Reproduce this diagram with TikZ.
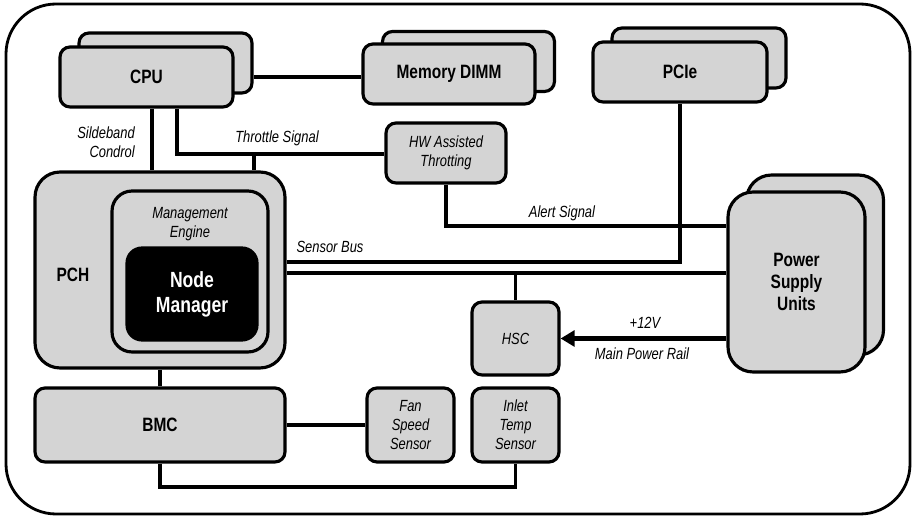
\documentclass[tikz,border=0pt]{standalone}
\usepackage{fontspec}
\setmainfont{Liberation Sans}[FakeStretch=0.8]
\usepackage{xcolor}
\usetikzlibrary{calc,arrows.meta}
\definecolor{boxgray}{gray}{0.83}

\begin{document}
\begin{tikzpicture}[x=0.02cm,y=-0.02cm,
  unit/.style={draw,line width=1.8pt,fill=boxgray,rounded corners=0.2cm,inner sep=0pt,align=center},
  bigtxt/.style={font=\bfseries\fontsize{11}{12.5}\selectfont},
  smalltxt/.style={font=\itshape\fontsize{9.2}{10.8}\selectfont,align=center},
  wire/.style={line width=1.8pt},
  power/.style={line width=3pt,-{Triangle[length=8pt,width=9pt]}}]
  \useasboundingbox (0,0) rectangle (913,516);
  \draw[line width=1.6pt,rounded corners=1cm] (6,4) rectangle (910,514);
  % stacked parts
  \node[unit,minimum width=3.46cm,minimum height=1.2cm] (cpuback) at (165.5,63) {};
  \node[unit,bigtxt,minimum width=3.46cm,minimum height=1.2cm] (cpu) at (146.5,77) {CPU};
  \node[unit,minimum width=3.44cm,minimum height=1.2cm] (memback) at (468.5,61.5) {};
  \node[unit,bigtxt,minimum width=3.44cm,minimum height=1.2cm] (mem) at (449,74) {Memory DIMM};
  \node[unit,minimum width=3.48cm,minimum height=1.2cm] (pcieback) at (699,58) {};
  \node[unit,bigtxt,minimum width=3.48cm,minimum height=1.2cm] (pcie) at (680,72) {PCIe};
  \node[unit,rounded corners=0.5cm,minimum width=2.74cm,minimum height=3.6cm] (psuback) at (815,265) {};
  \node[unit,bigtxt,rounded corners=0.5cm,minimum width=2.74cm,minimum height=3.6cm] (psu) at (796.5,282) {Power\\Supply\\Units};
  % PCH with management engine
  \node[unit,rounded corners=0.5cm,minimum width=5cm,minimum height=3.92cm] (pch) at (160,270) {};
  \node[bigtxt] (pchlbl) at (73,275) {PCH};
  \node[unit,rounded corners=0.4cm,minimum width=3.12cm,minimum height=3.22cm] (me) at (190,271.5) {};
  \node[smalltxt] (melbl) at (190,224) {Management\\Engine};
  \node[unit,fill=black,text=white,rounded corners=0.3cm,minimum width=2.6cm,minimum height=1.84cm,
    font=\bfseries\fontsize{12.5}{14.2}\selectfont] (nm) at (192,294) {Node\\Manager};
  % small parts
  \node[unit,smalltxt,minimum width=2.4cm,minimum height=1.2cm] (hw) at (446,153) {HW Assisted\\Throtting};
  \node[unit,smalltxt,minimum width=1.74cm,minimum height=1.46cm] (hsc) at (515.5,338.5) {HSC};
  \node[unit,bigtxt,minimum width=5cm,minimum height=1.48cm] (bmc) at (160,425) {BMC};
  \node[unit,smalltxt,minimum width=1.74cm,minimum height=1.48cm] (fan) at (410.5,425) {Fan\\Speed\\Sensor};
  \node[unit,smalltxt,minimum width=1.74cm,minimum height=1.48cm] (inlet) at (515.5,425) {Inlet\\Temp\\Sensor};
  % bend points
  \coordinate (sb) at (152,0);
  \coordinate (thr) at (177,154);
  \coordinate (thrb) at (254,154);
  \coordinate (al) at (0,226);
  \coordinate (sbus) at (0,262);
  \coordinate (bus2) at (0,273);
  \coordinate (bot) at (0,487);
  % connectors
  \draw[wire] (cpuback.east |- cpu.east) -- (mem.west |- cpu.east);
  \draw[wire] (cpu.south -| sb) -- (pch.north -| sb);
  \draw[wire] (cpu.south -| thr) |- (hw.west |- thr);
  \draw[wire] (thrb) -- (pch.north -| thrb);
  \draw[wire] (hw.south) |- (psu.west |- al);
  \draw[wire] (pch.east |- sbus) -| (pcie.south);
  \draw[wire] (pch.east |- bus2) -- (psu.west |- bus2);
  \draw[wire] (hsc.north) -- (hsc.north |- bus2);
  \draw[power] (psu.west |- hsc.east) -- (hsc.east);
  \draw[wire] (pch.south) -- (bmc.north);
  \draw[wire] (bmc.east) -- (fan.west);
  \draw[wire] (bmc.south) |- (bot -| inlet.south) -- (inlet.south);
  % labels
  \node[smalltxt,align=right,anchor=east] (sblbl) at (141,142) {Sildeband\\Condrol};
  \node[smalltxt] (thrlbl) at (277,138) {Throttle Signal};
  \node[smalltxt] (allbl) at (562,213) {Alert Signal};
  \node[smalltxt] (buslbl) at (330,247) {Sensor Bus};
  \node[smalltxt] (vlbl) at (645,323) {+12V};
  \node[smalltxt] (raillbl) at (642,354) {Main Power Rail};
\end{tikzpicture}
\end{document}
